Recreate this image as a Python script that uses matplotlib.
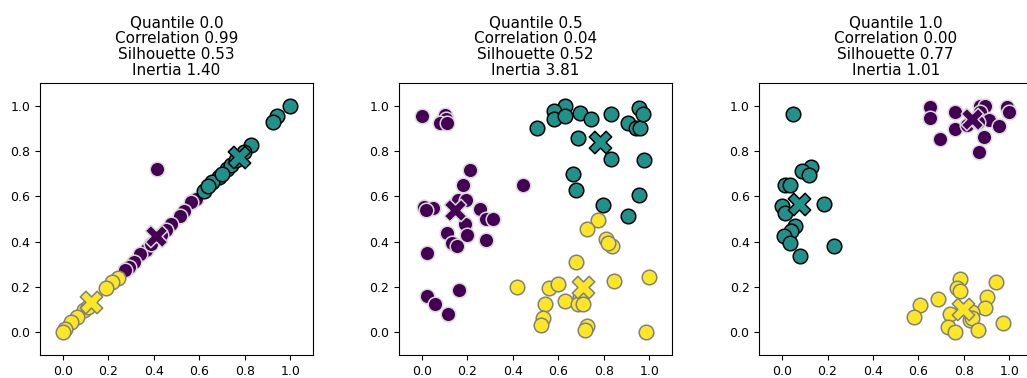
import numpy as np
import matplotlib
matplotlib.use("Agg")
import matplotlib.pyplot as plt

# panel titles
titles = [
    "Quantile 0.0\nCorrelation 0.99\nSilhouette 0.53\nInertia 1.40",
    "Quantile 0.5\nCorrelation 0.04\nSilhouette 0.52\nInertia 3.81",
    "Quantile 1.0\nCorrelation 0.00\nSilhouette 0.77\nInertia 1.01",
]

# panel 1 (quantile 0.0)
q0_purple_x = [0.413, 0.587, 0.562, 0.533, 0.515, 0.474, 0.452, 0.364, 0.342, 0.313, 0.29, 0.276, 0.43, 0.39]
q0_purple_y = [0.720, 0.589, 0.574, 0.534, 0.515, 0.476, 0.452, 0.364, 0.347, 0.31, 0.288, 0.273, 0.43, 0.39]
q0_teal_x = [1.0, 0.943, 0.926, 0.827, 0.797, 0.721, 0.687, 0.658, 0.621, 0.74, 0.76, 0.70, 0.64]
q0_teal_y = [1.0, 0.954, 0.93, 0.828, 0.794, 0.721, 0.684, 0.662, 0.625, 0.74, 0.76, 0.70, 0.645]
q0_yellow_x = [0.242, 0.217, 0.192, 0.093, 0.063, 0.038, 0.012, 0.0, 0.11]
q0_yellow_y = [0.241, 0.222, 0.194, 0.097, 0.068, 0.046, 0.016, 0.0, 0.11]
q0_centers_x = [0.408, 0.774, 0.126]
q0_centers_y = [0.425, 0.774, 0.133]

# panel 2 (quantile 0.5)
q5_purple_x = [0.0, 0.103, 0.107, 0.081, 0.11, 0.213, 0.180, 0.444, 0.161, 0.195, 0.01, 0.051,
               0.019, 0.257, 0.282, 0.312, 0.188, 0.11, 0.132, 0.157, 0.201, 0.282, 0.022,
               0.025, 0.059, 0.166, 0.114]
q5_purple_y = [0.956, 0.959, 0.94, 0.922, 0.922, 0.716, 0.652, 0.650, 0.586, 0.586, 0.554, 0.549,
               0.539, 0.542, 0.498, 0.498, 0.48, 0.439, 0.396, 0.381, 0.429, 0.406, 0.351,
               0.159, 0.127, 0.189, 0.082]
q5_teal_x = [0.63, 0.582, 0.582, 0.63, 0.694, 0.744, 0.833, 0.506, 0.905, 0.943, 0.96, 0.957,
             0.972, 0.686, 0.833, 0.975, 0.664, 0.679, 0.957, 0.799, 0.906]
q5_teal_y = [1.0, 0.978, 0.94, 0.954, 0.966, 0.94, 0.962, 0.9, 0.925, 0.9, 0.9, 0.988,
             0.962, 0.859, 0.764, 0.760, 0.697, 0.63, 0.605, 0.561, 0.513]
q5_yellow_x = [0.777, 0.726, 0.811, 0.836, 0.817, 0.679, 0.418, 0.559, 0.6, 0.843, 0.999,
               0.696, 0.63, 0.686, 0.711, 0.543, 0.535, 0.525, 0.726, 0.718, 0.987]
q5_yellow_y = [0.495, 0.455, 0.414, 0.381, 0.392, 0.311, 0.2, 0.197, 0.215, 0.225, 0.244,
               0.156, 0.138, 0.124, 0.124, 0.127, 0.065, 0.031, 0.028, 0.012, 0.0]
q5_centers_x = [0.147, 0.784, 0.707]
q5_centers_y = [0.539, 0.841, 0.2]

# panel 3 (quantile 1.0)
q1_purple_x = [0.65, 0.652, 0.76, 0.76, 0.696, 0.814, 0.872, 0.894, 0.869, 0.909, 0.887,
               0.865, 0.956, 0.99, 1.0, 0.862]
q1_purple_y = [0.996, 0.944, 0.971, 0.897, 0.851, 0.915, 1.0, 0.998, 0.972, 0.935, 0.863,
               0.797, 0.912, 0.996, 0.971, 0.93]
q1_teal_x = [0.048, 0.128, 0.088, 0.117, 0.012, 0.037, 0.0, 0.012, 0.186, 0.059, 0.041,
             0.007, 0.034, 0.23, 0.078]
q1_teal_y = [0.962, 0.728, 0.711, 0.694, 0.649, 0.649, 0.558, 0.527, 0.566, 0.47, 0.448,
             0.424, 0.392, 0.383, 0.336]
q1_yellow_x = [0.782, 0.941, 0.77, 0.782, 0.902, 0.685, 0.606, 0.894, 0.579, 0.738, 0.836,
               0.826, 0.836, 0.73, 0.762, 0.862, 0.972]
q1_yellow_y = [0.234, 0.222, 0.197, 0.183, 0.156, 0.149, 0.119, 0.108, 0.068, 0.082, 0.09,
               0.053, 0.065, 0.024, 0.0, 0.009, 0.041]
q1_centers_x = [0.836, 0.073, 0.795]
q1_centers_y = [0.94, 0.568, 0.105]

panels = [
    ([q0_purple_x, q0_teal_x, q0_yellow_x], [q0_purple_y, q0_teal_y, q0_yellow_y], q0_centers_x, q0_centers_y),
    ([q5_purple_x, q5_teal_x, q5_yellow_x], [q5_purple_y, q5_teal_y, q5_yellow_y], q5_centers_x, q5_centers_y),
    ([q1_purple_x, q1_teal_x, q1_yellow_x], [q1_purple_y, q1_teal_y, q1_yellow_y], q1_centers_x, q1_centers_y),
]

face_colors = ["#440154", "#21918c", "#fde725"]
edge_colors = ["#d8d8d8", "#000000", "#808080"]

fig = plt.figure(figsize=(10.27, 3.78), dpi=100)
lefts = [0.0389, 0.3885, 0.7393]

for i, (xs, ys, cx, cy) in enumerate(panels):
    ax = fig.add_axes([lefts[i], 0.0608, 0.2658, 0.7196])
    for k in range(3):
        ax.scatter(xs[k], ys[k], s=110, c=face_colors[k], edgecolors=edge_colors[k], linewidths=1.1)
    for k in range(3):
        ax.scatter(cx[k], cy[k], s=260, marker="X", c=face_colors[k], edgecolors=edge_colors[k], linewidths=1.1)
    ax.set_xlim(-0.1, 1.1)
    ax.set_ylim(-0.1, 1.1)
    ax.set_xticks([0.0, 0.2, 0.4, 0.6, 0.8, 1.0])
    ax.set_yticks([0.0, 0.2, 0.4, 0.6, 0.8, 1.0])
    ax.tick_params(labelsize=9)
    ax.set_title(titles[i], fontsize=11, linespacing=1.05)

fig.savefig("out.png", dpi=100)
